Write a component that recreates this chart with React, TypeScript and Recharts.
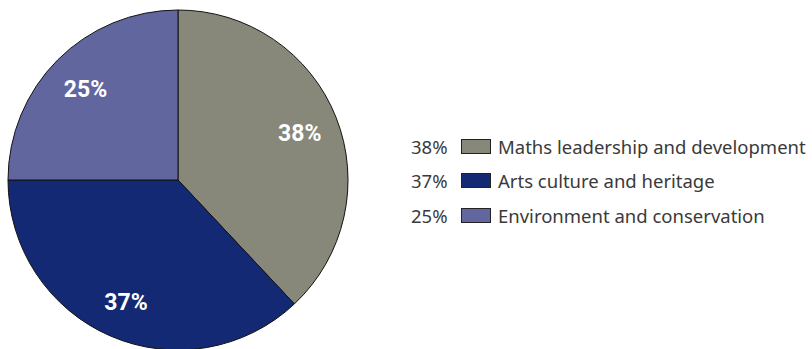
import React from "react";
import { PieChart, Pie, Cell, Legend } from "recharts";

const categories = [
  "Maths leadership and development",
  "Arts culture and heritage",
  "Environment and conservation",
];
const shares = [38, 37, 25];
const colors = ["#87887a", "#142973", "#61669e"];

const data = categories.map((name, i) => ({ name, value: shares[i] }));

const RADIAN = Math.PI / 180;

const renderLabel = (props: any) => {
  const { cx, cy, midAngle, outerRadius, value } = props;
  const r = outerRadius * 0.77;
  const x = cx + r * Math.cos(-midAngle * RADIAN);
  const y = cy + r * Math.sin(-midAngle * RADIAN) + 2;
  return (
    <text
      x={x}
      y={y}
      fill="#ffffff"
      textAnchor="middle"
      dominantBaseline="central"
      fontFamily="Roboto, sans-serif"
      fontWeight="bold"
      fontSize={23}
    >
      {value}%
    </text>
  );
};

const renderLegend = () => (
  <div style={{ fontFamily: "'Noto Sans', sans-serif", fontSize: 18.5, color: "#3a3a3a" }}>
    {data.map((d, i) => (
      <div
        key={d.name}
        style={{ display: "flex", alignItems: "center", height: 34.5, whiteSpace: "nowrap" }}
      >
        <span style={{ width: 39, marginRight: 11 }}>{d.value}%</span>
        <span
          style={{
            display: "inline-block",
            width: 28,
            height: 13,
            background: colors[i],
            border: "1px solid #222",
            marginRight: 7,
          }}
        />
        <span>{d.name}</span>
      </div>
    ))}
  </div>
);

export default function App() {
  return (
    <div style={{ position: "absolute", left: 0, top: 0 }}>
      <PieChart width={812} height={349} margin={{ top: 0, right: 0, bottom: 0, left: 0 }}>
        <Pie
          data={data}
          dataKey="value"
          nameKey="name"
          cx={178}
          cy={180}
          outerRadius={170}
          startAngle={90}
          endAngle={-270}
          stroke="#111"
          strokeWidth={1}
          label={renderLabel}
          labelLine={false}
          isAnimationActive={false}
        >
          {data.map((d, i) => (
            <Cell key={d.name} fill={colors[i]} />
          ))}
        </Pie>
        <Legend
          content={renderLegend}
          layout="vertical"
          wrapperStyle={{ position: "absolute", left: 411, top: 129, width: 400 }}
        />
      </PieChart>
    </div>
  );
}
